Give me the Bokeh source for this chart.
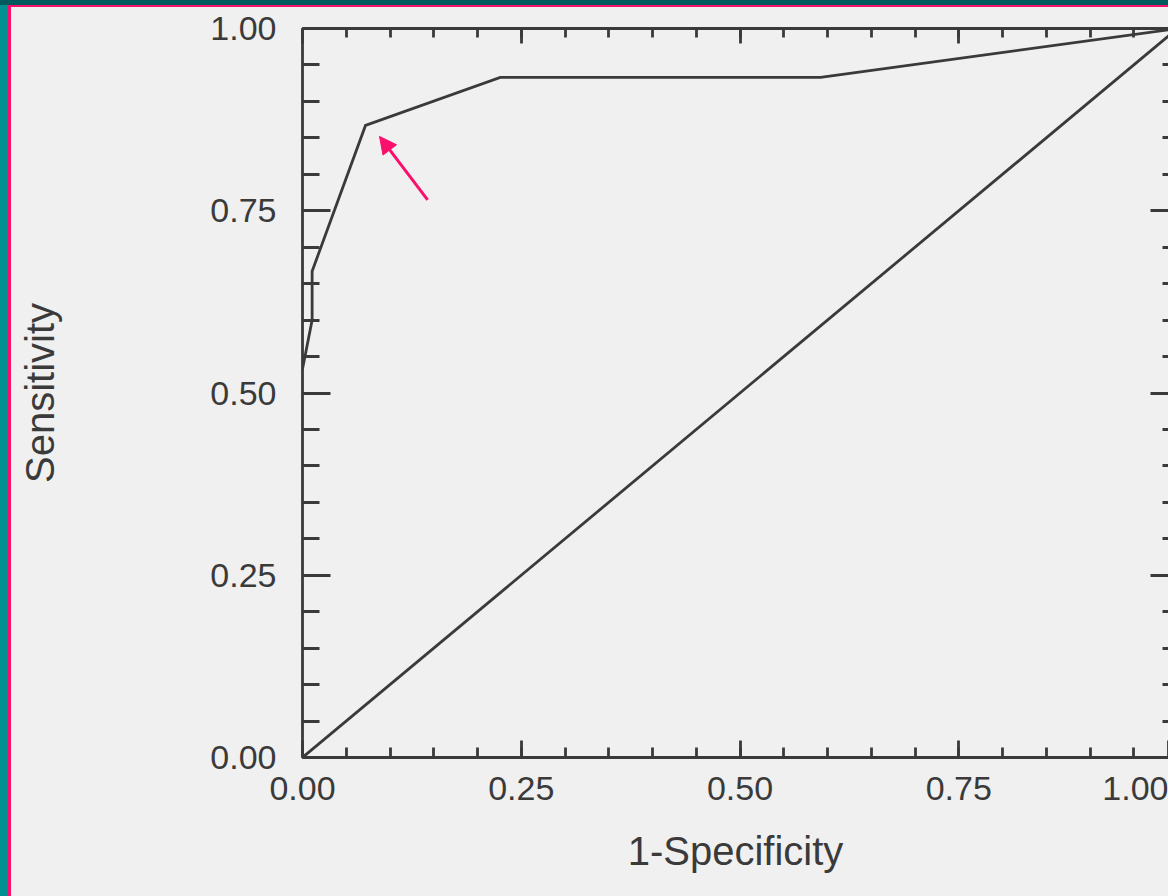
from bokeh.plotting import figure
from bokeh.models import (Range1d, LinearAxis, SingleIntervalTicker, FixedTicker,
                          NumeralTickFormatter, Arrow, NormalHead)
from bokeh.embed import file_html
from bokeh.resources import INLINE

# ---- data ----
fpr = [0.0, 0.011, 0.011, 0.072, 0.226, 0.592, 1.0]          # 1-Specificity
tpr = [0.533, 0.600, 0.667, 0.867, 0.933, 0.933, 1.0]        # Sensitivity
chance_x = [0.0, 1.0]
chance_y = [0.0, 1.0]
tick_values = [0.0, 0.25, 0.5, 0.75, 1.0]
tick_labels = ["0.00", "0.25", "0.50", "0.75", "1.00"]
x_title = "1-Specificity"
y_title = "Sensitivity"
marked_index = 3   # cut-off point marked by the arrow

# ---- style ----
INK = "#3a3a3a"
PAPER = "#f0f0f0"
PINK = "#fa0f6c"
TEAL_TOP = "#005a5e"
TEAL_SIDE = "#00908f"
FONT = "Liberation Sans"
TICK_FS = "34px"
TITLE_FS = "40px"
LW = 2.8

# the reference picture is cropped just before x = 1.00
X_END = 0.9897

p = figure(width=1168, height=896,
           x_range=Range1d(0, X_END), y_range=Range1d(0, 1),
           output_backend="svg", toolbar_location=None,
           min_border_left=302, min_border_right=0,
           min_border_top=28, min_border_bottom=139,
           background_fill_color=PAPER, border_fill_color=None,
           outline_line_color=None)
p.grid.visible = False
p.styles = {
    "background-color": PAPER,
    "box-shadow": (f"inset 0 5px 0 0 {TEAL_TOP}, inset 8px 0 0 0 {TEAL_SIDE}, "
                   f"inset 11px 7px 0 0 {PINK}"),
}

ticker = SingleIntervalTicker(interval=0.25, num_minor_ticks=5)
minor = [round(i * 0.05, 2) for i in range(21)]
# bottom axis: the cropped "1.00" label is shown at the crop edge
x_ticker = FixedTicker(ticks=tick_values[:-1] + [X_END], minor_ticks=minor)

def style_axis(ax, tick_major, tick_minor, labels=True, tk=ticker):
    ax.ticker = tk
    ax.axis_line_color = INK
    ax.axis_line_width = LW
    ax.major_tick_line_color = INK
    ax.minor_tick_line_color = INK
    ax.major_tick_line_width = LW
    ax.minor_tick_line_width = LW
    ax.major_tick_in = tick_major
    ax.major_tick_out = 0
    ax.minor_tick_in = tick_minor
    ax.minor_tick_out = 0
    if labels:
        ax.formatter = NumeralTickFormatter(format="0.00")
        ax.major_label_text_font = FONT
        ax.major_label_text_font_size = TICK_FS
        ax.major_label_text_color = INK
        ax.axis_label_text_font = FONT
        ax.axis_label_text_font_size = TITLE_FS
        ax.axis_label_text_font_style = "normal"
        ax.axis_label_text_color = INK
    else:
        ax.major_label_text_color = None
        ax.major_label_text_font_size = "1px"
        ax.major_label_standoff = 0

xa = p.xaxis[0]
style_axis(xa, 17, 10, tk=x_ticker)
xa.major_label_overrides = {X_END: tick_labels[-1]}
xa.axis_label = x_title
xa.major_label_standoff = 19
xa.axis_label_standoff = 26

ya = p.yaxis[0]
style_axis(ya, 28, 17)
ya.axis_label = y_title
ya.major_label_standoff = 26
ya.axis_label_standoff = 145

top = LinearAxis()
style_axis(top, 15, 9, labels=False)
p.add_layout(top, "above")

right = LinearAxis()
style_axis(right, 18, 6, labels=False)
right.axis_line_color = None
p.add_layout(right, "right")

# diagonal reference line and ROC curve
p.line(chance_x, chance_y, line_color=INK, line_width=LW)
p.line(fpr, tpr, line_color=INK, line_width=LW, line_join="miter")

# arrow pointing to the chosen cut-off
mx, my = fpr[marked_index], tpr[marked_index]
p.add_layout(Arrow(x_start=mx + 0.071, y_start=my - 0.102,
                   x_end=mx + 0.016, y_end=my - 0.015,
                   line_color=PINK, line_width=3,
                   end=NormalHead(size=17, fill_color=PINK, line_color=PINK)))

open("out.html", "w").write(file_html(p, INLINE))
